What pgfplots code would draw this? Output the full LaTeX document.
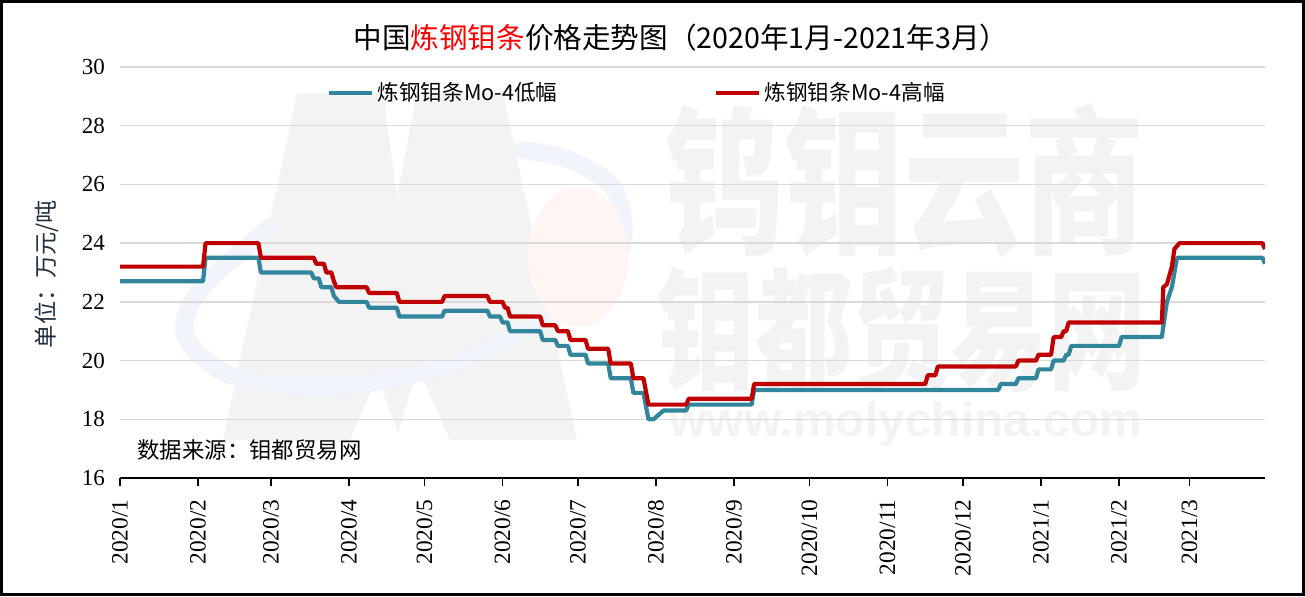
\documentclass[border=0pt]{standalone}
\usepackage{pgfplots}
\pgfplotsset{compat=1.18}
\usepackage{graphicx}
\usepackage{fontspec}
\setmainfont{Liberation Serif}
\newfontfamily\cjk{Noto Sans CJK SC}
\newfontfamily\wmsans{Liberation Sans}
\definecolor{lowc}{HTML}{31859C}
\definecolor{highc}{HTML}{C00000}
\definecolor{gridc}{HTML}{D9D9D9}
\definecolor{wm}{HTML}{F3F3F3}
\definecolor{wmblue}{HTML}{F1F5FB}
\definecolor{wmred}{HTML}{FFF5F2}
\definecolor{titred}{HTML}{FF0000}
\definecolor{ylab}{HTML}{1F2F3F}
\begin{document}
\begin{tikzpicture}
\path[use as bounding box] (0,0) rectangle (652.5pt,298pt);
% faint watermark logo
\fill[wm] (111.5pt,78pt) -- (148.5pt,251.5pt) -- (191.5pt,251.5pt) -- (198.5pt,199.5pt) -- (208.5pt,251.5pt) -- (251.5pt,251.5pt) -- (288.5pt,78pt) -- (225pt,78pt) -- (209pt,114.5pt) -- (199pt,81.5pt) -- (188.5pt,109.5pt) -- (175pt,78pt) -- cycle;
\draw[wmblue, line width=9pt, line cap=round] plot[smooth] coordinates {(135pt,184.5pt) (100pt,153pt) (92.5pt,130.5pt) (115pt,110.5pt) (165pt,104.5pt) (225pt,115.5pt) (280pt,143pt) (310pt,173pt) (307.5pt,203pt) (285pt,218pt) (261.5pt,223pt)};
\fill[wmred] (289pt,169.5pt) ellipse [x radius=25pt, y radius=35pt];
\node[wm, inner sep=0pt] at (452pt,207.5pt) {\scalebox{0.75}[1]{\cjk\bfseries\fontsize{80pt}{80pt}\selectfont 钨钼云商}};
\node[wm, inner sep=0pt] at (451pt,133pt) {\scalebox{0.74}[1]{\cjk\bfseries\fontsize{66pt}{66pt}\selectfont 钼都贸易网}};
\node[wm, inner sep=0pt] at (453pt,86pt) {\wmsans\bfseries\fontsize{24pt}{24pt}\selectfont www.molychina.com};
\begin{axis}[
  at={(60pt,59pt)}, anchor=south west,
  scale only axis, width=572.5pt, height=205.5pt,
  xmin=0, xmax=455, ymin=16, ymax=30,
  ytick={16,18,...,30},
  xtick={0,31,60,91,121,152,182,213,244,274,305,335,366,397,425},
  xticklabels={2020/1,2020/2,2020/3,2020/4,2020/5,2020/6,2020/7,2020/8,2020/9,2020/10,2020/11,2020/12,2021/1,2021/2,2021/3},
  axis line style={draw=none},
  ymajorgrids, grid style={gridc, line width=0.7pt},
  ytick style={draw=none},
  x tick style={black, line width=0.9pt},
  tick pos=left, tick align=outside, major tick length=4pt,
  /pgf/number format/assume math mode=true,
  xticklabel style={rotate=90, anchor=east, inner xsep=6.5pt, font=\fontsize{11.7pt}{12pt}\selectfont},
  yticklabel style={font=\fontsize{11.5pt}{12pt}\selectfont},
  legend columns=2,
  legend cell align=left,
  legend style={at={(axis description cs:0.18,0.937)}, anchor=west, draw=none, fill=none, inner sep=0pt,
    font=\cjk\fontsize{10.8pt}{12pt}\selectfont,
    /tikz/every even column/.append style={column sep=76pt}},
  legend image code/.code={\draw[#1] (0pt,0pt) -- (21.5pt,0pt);},
]
\addplot[lowc, line width=2.1pt, line join=round] coordinates {
(0,22.7) (33,22.7) (34,23.5) (55,23.5) (56,23.0) (76,23.0) (77,22.8) (79,22.8) (80,22.5) (84,22.5) (85,22.2) (87,22.0) (98,22.0) (99,21.8) (110,21.8) (111,21.5) (128,21.5) (129,21.7) (146,21.7) (147,21.5) (151,21.5) (152,21.3) (154,21.3) (155,21.0) (167,21.0) (168,20.7) (173,20.7) (174,20.5) (178,20.5) (179,20.2) (185,20.2) (186,19.9) (194,19.9) (195,19.4) (203,19.4) (204,18.9) (208,18.9) (210,18.0) (212,18.0) (216,18.3) (225,18.3) (226,18.5) (251,18.5) (252,19.0) (349,19.0) (350,19.2) (356,19.2) (357,19.4) (364,19.4) (365,19.7) (370,19.7) (371,20.0) (375,20.0) (376,20.2) (377,20.2) (378,20.5) (397,20.5) (398,20.8) (414,20.8) (416,22.0) (418,22.5) (420,23.5) (454,23.5) (455,23.3)
};
\addlegendentry{炼钢钼条Mo-4低幅}
\addplot[highc, line width=2.1pt, line join=round] coordinates {
(0,23.2) (33,23.2) (34,24.0) (55,24.0) (56,23.5) (77,23.5) (78,23.3) (81,23.3) (82,23.0) (84,23.0) (85,22.7) (86,22.5) (98,22.5) (99,22.3) (110,22.3) (111,22.0) (128,22.0) (129,22.2) (146,22.2) (147,22.0) (152,22.0) (153,21.8) (154,21.8) (155,21.5) (167,21.5) (168,21.2) (173,21.2) (174,21.0) (178,21.0) (179,20.7) (185,20.7) (186,20.4) (194,20.4) (195,19.9) (203,19.9) (204,19.4) (208,19.4) (210,18.5) (225,18.5) (226,18.7) (251,18.7) (252,19.2) (320,19.2) (321,19.5) (324,19.5) (325,19.8) (356,19.8) (357,20.0) (364,20.0) (365,20.2) (370,20.2) (371,20.8) (374,20.8) (375,21.0) (376,21.0) (377,21.3) (414,21.3) (414.6,22.5) (416,22.6) (418,23.2) (419,23.8) (421,24.0) (454,24.0) (455,23.8)
};
\addlegendentry{炼钢钼条Mo-4高幅}
\draw[black, line width=0.9pt] (rel axis cs:0,0) -- (rel axis cs:1,0);
\end{axis}
\node at (340.5pt,279pt) {\cjk\fontsize{14.3pt}{16pt}\selectfont 中国\textcolor{titred}{炼钢钼条}价格走势图（2020年1月-2021年3月）};
\node[anchor=west, inner sep=0pt] at (68.5pt,73pt) {\cjk\fontsize{11.2pt}{13pt}\selectfont 数据来源：钼都贸易网};
\node[rotate=90, inner sep=0pt, text=ylab] at (23.5pt,161pt) {\cjk\fontsize{11.6pt}{13pt}\selectfont 单位：万元/吨};
\draw[black, line width=1.4pt] (0.7pt,0.7pt) rectangle (651.8pt,297.3pt);
\end{tikzpicture}
\end{document}
